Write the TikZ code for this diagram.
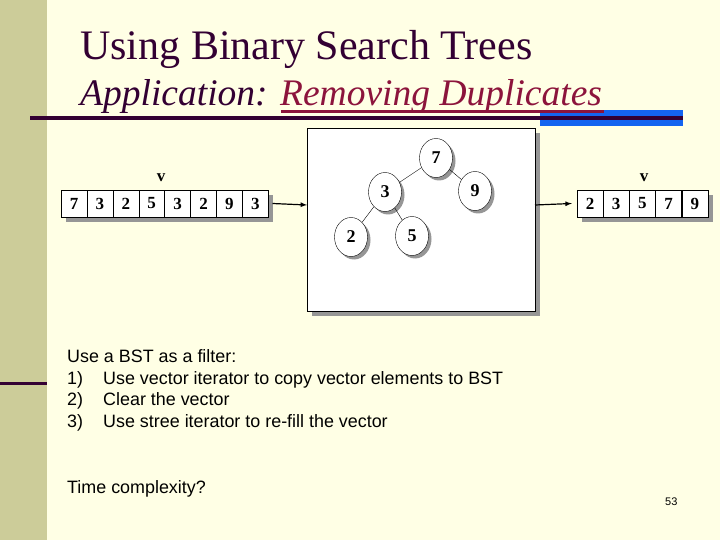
\documentclass[tikz,border=0pt]{standalone}
\usepackage{fontspec}
\setmainfont{Liberation Serif}
\newfontfamily\arial{Liberation Sans}
\definecolor{bg}{RGB}{255,255,229}
\definecolor{side}{RGB}{204,204,153}
\definecolor{tpurple}{RGB}{51,0,51}
\definecolor{tred}{RGB}{140,20,60}
\definecolor{bblue}{RGB}{20,100,240}
\definecolor{shad}{RGB}{150,150,150}
\tikzset{
 cell/.style={draw=black,fill=white,minimum width=26pt,minimum height=27pt,inner sep=0pt,font=\fontsize{17}{17}\selectfont\bfseries},
 tnode/.style={draw=black,fill=white,ellipse,minimum width=33pt,minimum height=39pt,inner sep=0pt,font=\fontsize{18}{18}\selectfont\bfseries},
 tshad/.style={fill=shad,ellipse,minimum width=33pt,minimum height=39pt},
 body/.style={anchor=base west,font=\arial\fontsize{17.9}{17.9}\selectfont,inner sep=0pt},
 arr/.style={-latex,line width=1.2pt}
}
\usetikzlibrary{shapes.geometric}
\begin{document}
\begin{tikzpicture}[x=1pt,y=-1pt]
\useasboundingbox (0,0) rectangle (720,540);
\fill[bg] (0,0) rectangle (720,540);
\fill[side] (0,0) rectangle (47,540);
\fill[tpurple] (0,382) rectangle (47,385);
\fill[bblue] (540,110) rectangle (683,126);
\fill[tpurple] (30,116) rectangle (683,120);
\node[anchor=base west,inner sep=0pt,text=tpurple,font=\fontsize{42}{42}\selectfont] (t1) at (80,60) {Using Binary Search Trees};
\node[anchor=base west,inner sep=0pt,text=tpurple,font=\fontsize{37.5}{37.5}\selectfont\itshape] (t2) at (80,106) {Application: \textcolor{tred}{Removing Duplicates}};
\fill[tred] (281,110) rectangle (604,113.5);
% BST box
\fill[shad] (312,133) rectangle (540,316);
\draw[fill=white] (307,128) rectangle (535,311);
\coordinate (boxL) at (307,205);
\coordinate (boxR) at (535,205);
% left array
\fill[shad] (66,195) rectangle (273,222);
\foreach \v [count=\i] in {7,3,2,5,3,2,9,3}{
  \node[cell] (a\i) at ({61+13+(\i-1)*25.9},203.5) {\v};
}
\node[font=\fontsize{17}{17}\selectfont\bfseries] (va) at (161,178) {v};
% right array
\fill[shad] (582,195) rectangle (713,222);
\foreach \v [count=\i] in {2,3,5,7,9}{
  \node[cell] (b\i) at ({577+13+(\i-1)*26.2},203.5) {\v};
}
\node[font=\fontsize{17}{17}\selectfont\bfseries] (vb) at (644,178) {v};
\draw[arr] (a8.east) ++(4,0) -- (boxL);
\draw[arr] (boxR) -- ([xshift=-5pt]b1.west);
% tree
\foreach \n/\x/\y in {7/436/158,3/385/192,9/475/191,2/351/237,5/412/236}{
  \node[tshad] at (\x+3,\y+3) {};
}
\node[tnode] (n7) at (436,158) {7};
\node[tnode] (n3) at (385,192) {3};
\node[tnode] (n9) at (475,191) {9};
\node[tnode] (n2) at (351,237) {2};
\node[tnode] (n5) at (412,236) {5};
\draw (n7) -- (n3); \draw (n7) -- (n9); \draw (n3) -- (n2); \draw (n3) -- (n5);
% text
\node[body] (l0) at (67,362) {Use a BST as a filter:};
\node[body] (l1n) at (67,384) {1)};
\node[body] (l1) at (103,384) {Use vector iterator to copy vector elements to BST};
\node[body] (l2n) at (67,405) {2)};
\node[body] (l2) at (103,405) {Clear the vector};
\node[body] (l3n) at (67,427) {3)};
\node[body] (l3) at (103,427) {Use stree iterator to re-fill the vector};
\node[body] (tc) at (67,493) {Time complexity?};
\node[anchor=base west,inner sep=0pt,font=\arial\fontsize{11}{11}\selectfont] (pg) at (665,505) {53};
\end{tikzpicture}
\end{document}
